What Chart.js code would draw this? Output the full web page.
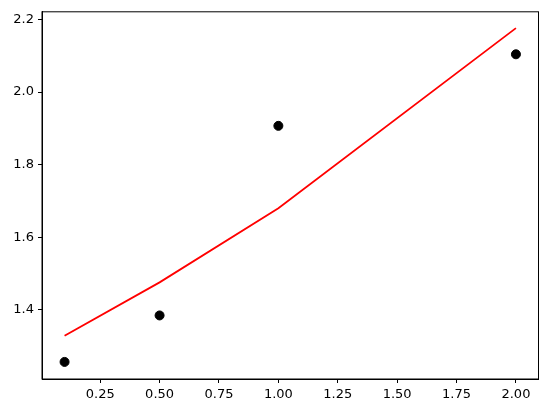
<!DOCTYPE html>
<html>
<head>
<meta charset="utf-8">
<script src="https://cdn.jsdelivr.net/npm/chart.js@4"></script>
<style>
  html, body { margin: 0; padding: 0; background: #ffffff; }
  #wrap { width: 547px; height: 413px; }
</style>
</head>
<body>
<div id="wrap"><canvas id="chart"></canvas></div>
<script>
// Data
const xValues = [0.1, 0.5, 1.0, 2.0];
const observed = [1.257, 1.385, 1.907, 2.104];
const fitted = [1.329, 1.476, 1.680, 2.176];

// Tick labels
const xTicks = [0.25, 0.5, 0.75, 1.0, 1.25, 1.5, 1.75, 2.0];
const yTicks = [1.4, 1.6, 1.8, 2.0, 2.2];

Chart.defaults.font.family = "'DejaVu Sans', sans-serif";
Chart.defaults.font.size = 13;
Chart.defaults.color = "#000000";

// draw the full axes box like matplotlib
const frameBox = {
  id: "frameBox",
  afterDraw(chart) {
    const { ctx, chartArea: a } = chart;
    ctx.save();
    ctx.strokeStyle = "#000000";
    ctx.lineWidth = 1;
    ctx.strokeRect(a.left, a.top, a.right - a.left, a.bottom - a.top);
    ctx.restore();
  },
};

new Chart("chart", {
  type: "scatter",
  data: {
    datasets: [
      {
        data: xValues.map((x, i) => ({ x: x, y: fitted[i] })),
        showLine: true,
        borderColor: "#ff0000",
        borderWidth: 1.8,
        pointRadius: 0,
        fill: false,
      },
      {
        data: xValues.map((x, i) => ({ x: x, y: observed[i] })),
        backgroundColor: "#000000",
        borderColor: "#000000",
        pointRadius: 4.5,
        pointHoverRadius: 4.5,
      },
    ],
  },
  options: {
    responsive: true,
    maintainAspectRatio: false,
    animation: false,
    layout: { padding: { top: 10, right: 8.5, left: 0, bottom: 0 } },
    plugins: { legend: { display: false }, tooltip: { enabled: false } },
    scales: {
      x: {
        type: "linear",
        min: 0.005,
        max: 2.095,
        afterBuildTicks: (scale) => {
          scale.ticks = xTicks.map((v) => ({ value: v }));
        },
        afterFit: (scale) => {
          scale.height = 34;
        },
        ticks: {
          callback: (v) => Number(v).toFixed(2),
          padding: 4,
          maxRotation: 0,
          autoSkip: false,
        },
        grid: {
          drawOnChartArea: false,
          drawTicks: true,
          tickLength: 4,
          color: "#000000",
        },
        border: { color: "#000000" },
      },
      y: {
        type: "linear",
        min: 1.21,
        max: 2.221,
        afterBuildTicks: (scale) => {
          scale.ticks = yTicks.map((v) => ({ value: v }));
        },
        afterFit: (scale) => {
          scale.width = 42;
        },
        ticks: {
          callback: (v) => Number(v).toFixed(1),
          padding: 4,
          autoSkip: false,
        },
        grid: {
          drawOnChartArea: false,
          drawTicks: true,
          tickLength: 4,
          color: "#000000",
        },
        border: { color: "#000000" },
      },
    },
  },
  plugins: [frameBox],
});
</script>
</body>
</html>
